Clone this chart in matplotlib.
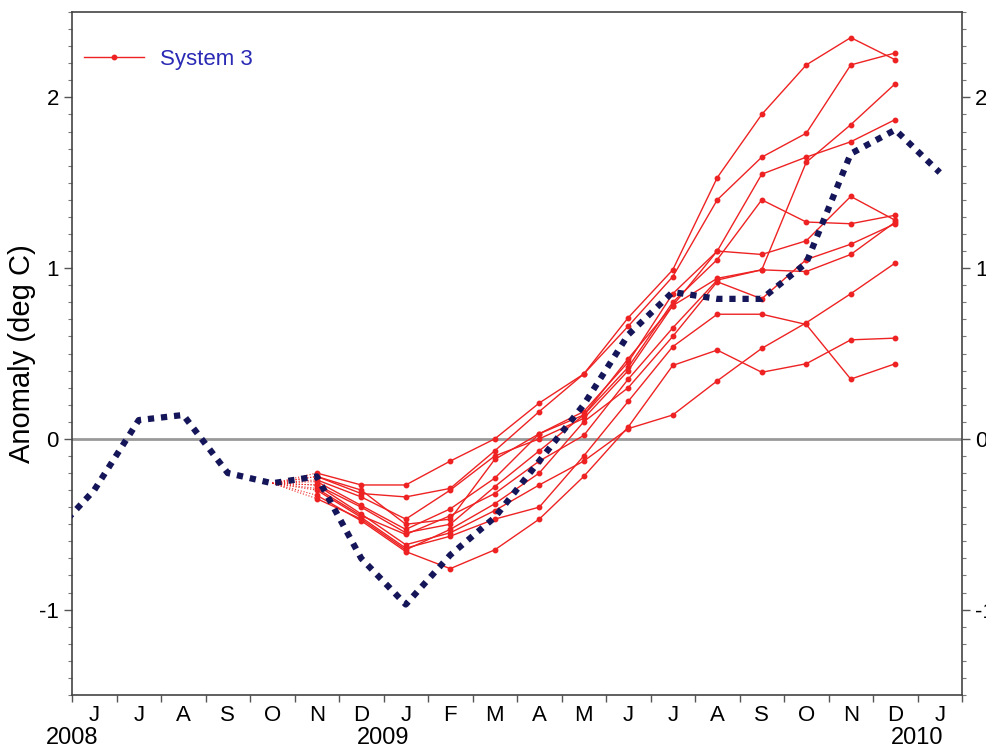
import numpy as np
import matplotlib.pyplot as plt

plt.rcParams['font.family'] = ['Liberation Sans', 'DejaVu Sans']

# month index: 0 = June 2008, points drawn at mid-month
month_letters = ['J', 'J', 'A', 'S', 'O', 'N', 'D', 'J', 'F', 'M', 'A', 'M',
                 'J', 'J', 'A', 'S', 'O', 'N', 'D', 'J']
year_labels = ['2008', '2009', '2010']
year_starts = [0, 7, 19]

# observed anomaly, May 2008 .. Jan 2010
obs_months = np.arange(-1, 20)
obs_anom = [-0.58, -0.30, 0.11, 0.14, -0.20, -0.26, -0.22, -0.70, -0.97, -0.68,
            -0.46, -0.13, 0.20, 0.61, 0.86, 0.82, 0.82, 1.03, 1.67, 1.81, 1.56]

# System 3 members, Nov 2008 .. Dec 2009
fc_start = 4          # Oct 2008 (initial state)
fc_months = np.arange(5, 19)
members = [
    [-0.20, -0.27, -0.27, -0.13, 0.00, 0.21, 0.38, 0.71, 0.99, 1.53, 1.90, 2.19, 2.35, 2.22],
    [-0.22, -0.32, -0.34, -0.29, -0.07, 0.16, 0.38, 0.66, 0.95, 1.40, 1.65, 1.79, 2.19, 2.26],
    [-0.25, -0.39, -0.53, -0.41, -0.23, 0.03, 0.14, 0.47, 0.78, 0.94, 0.99, 1.62, 1.84, 2.08],
    [-0.22, -0.30, -0.50, -0.47, -0.12, 0.03, 0.16, 0.45, 0.85, 1.10, 1.55, 1.65, 1.74, 1.87],
    [-0.27, -0.40, -0.55, -0.50, -0.28, -0.07, 0.14, 0.42, 0.80, 1.05, 1.40, 1.27, 1.26, 1.31],
    [-0.24, -0.34, -0.47, -0.30, -0.10, 0.00, 0.12, 0.40, 0.78, 1.10, 1.08, 1.16, 1.42, 1.28],
    [-0.29, -0.45, -0.56, -0.45, -0.32, -0.13, 0.02, 0.35, 0.65, 0.93, 0.99, 0.98, 1.08, 1.27],
    [-0.35, -0.47, -0.65, -0.53, -0.38, -0.20, 0.10, 0.30, 0.60, 0.92, 0.82, 1.05, 1.14, 1.26],
    [-0.27, -0.44, -0.62, -0.55, -0.42, -0.27, -0.13, 0.06, 0.14, 0.34, 0.53, 0.68, 0.85, 1.03],
    [-0.33, -0.48, -0.66, -0.76, -0.65, -0.47, -0.22, 0.07, 0.43, 0.52, 0.39, 0.44, 0.58, 0.59],
    [-0.30, -0.46, -0.64, -0.57, -0.47, -0.40, -0.10, 0.22, 0.54, 0.73, 0.73, 0.67, 0.35, 0.44],
]

fig = plt.figure(figsize=(9.86, 7.5), dpi=100)
ax = fig.add_axes([72 / 986, 55 / 750, 890 / 986, 683 / 750])

ax.axhline(0, color='#999999', lw=2, zorder=1)

red = '#ee2222'
x0 = fc_start + 0.5
y0 = obs_anom[fc_start + 1]
for i, m in enumerate(members):
    ax.plot([x0, fc_months[0] + 0.5], [y0, m[0]], color=red, lw=0.8, ls=':', zorder=2)
    ax.plot(fc_months + 0.5, m, color=red, lw=1.0, marker='o', ms=3.2,
            label='System 3' if i == 0 else None, zorder=3)

ax.plot(obs_months + 0.5, obs_anom, color='#15155a', lw=4.5,
        ls=(0, (1, 1.1)), dash_capstyle='butt', zorder=4)

ax.set_xlim(0, 20)
ax.set_ylim(-1.5, 2.5)

ax.set_xticks(np.arange(20) + 0.5)
ax.set_xticklabels(month_letters)
ax.set_xticks(np.arange(21), minor=True)
ax.tick_params(axis='x', which='major', length=0, pad=7, labelsize=16)
ax.tick_params(axis='x', which='minor', length=5, width=1, direction='out', color='#555555')

ax.set_yticks([-1, 0, 1, 2])
ax.set_yticklabels(['-1', '0', '1', '2'])
ax.set_yticks(np.arange(-1.5, 2.51, 0.1), minor=True)
ax.tick_params(axis='y', which='major', length=6, width=1, labelsize=16,
               left=True, right=True, labelleft=True, labelright=True, color='#555555')
ax.tick_params(axis='y', which='minor', length=3, width=0.8,
               left=True, right=True, color='#777777')

for s in ax.spines.values():
    s.set_color('#444444')
    s.set_linewidth(1.2)

for lab, xs in zip(year_labels, year_starts):
    ax.text(xs, -0.063, lab, transform=ax.get_xaxis_transform(),
            ha='center', va='center', fontsize=17)

ax.set_ylabel('Anomaly (deg C)', fontsize=21)
ax.yaxis.set_label_coords(-0.04, 0.5)

leg = ax.legend(loc='center left', bbox_to_anchor=(0.014, 0.931), frameon=False,
                fontsize=16, handlelength=2.7, handletextpad=0.7,
                borderpad=0, borderaxespad=0, numpoints=1)
for t in leg.get_texts():
    t.set_color('#2a2ab5')

fig.savefig('out.png', dpi=100)
